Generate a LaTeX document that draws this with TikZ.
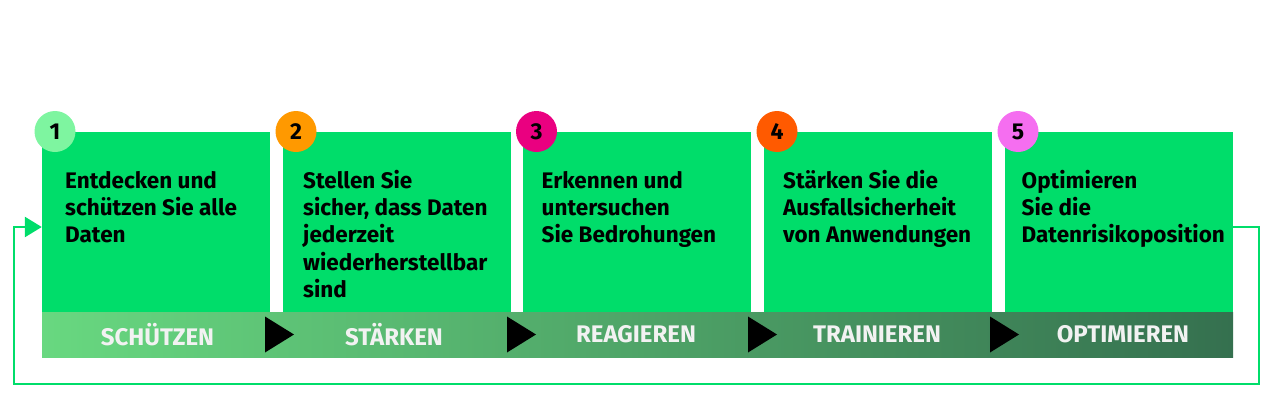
\documentclass[tikz,border=0pt]{standalone}
\usepackage{fontspec}
\setmainfont{Fira Sans}
\usetikzlibrary{arrows.meta,calc}
\definecolor{boxgreen}{HTML}{00DD6A}
\definecolor{bandL}{HTML}{68D880}
\definecolor{bandR}{HTML}{35704F}
\definecolor{c1}{HTML}{7EF5A0}
\definecolor{c2}{HTML}{FF9900}
\definecolor{c3}{HTML}{EA0080}
\definecolor{c4}{HTML}{FF5A00}
\definecolor{c5}{HTML}{F56EF0}
\definecolor{labelwhite}{HTML}{F2F2F2}
\tikzset{
  x=1pt,y=-1pt,
  stepbox/.style={fill=boxgreen,draw=none,minimum width=228pt,minimum height=180pt,inner sep=0pt},
  numcirc/.style={circle,minimum size=41pt,inner sep=0pt,font=\fontsize{23}{23}\selectfont\bfseries},
  bodytext/.style={anchor=north west,align=left,inner sep=0pt,font=\fontsize{22.5}{27.3}\selectfont\bfseries},
  bandlabel/.style={text=labelwhite,font=\fontsize{24}{24}\selectfont\bfseries,inner sep=0pt},
  tri/.style={fill=black,draw=none},
  loopline/.style={draw=boxgreen,line width=2.6pt},
}
\begin{document}
\begin{tikzpicture}
\useasboundingbox (0,0) rectangle (1280,407);
% boxes
\node[stepbox] (b1) at (156,222) {};
\node[stepbox] (b2) at (396.5,222) {};
\node[stepbox] (b3) at (637,222) {};
\node[stepbox] (b4) at (878,222) {};
\node[stepbox] (b5) at (1119,222) {};
% band
\node[minimum width=1191pt,minimum height=45pt,inner sep=0pt,left color=bandL,right color=bandR,draw=none] (band) at (637.5,334.5) {};
% band labels
\node[bandlabel] (l1) at (157.5,334.5) {SCHÜTZEN};
\node[bandlabel] (l2) at (394,334.5) {STÄRKEN};
\node[bandlabel] (l3) at (636,334.5) {REAGIEREN};
\node[bandlabel] (l4) at (877,334.5) {TRAINIEREN};
\node[bandlabel] (l5) at (1123,334.5) {OPTIMIEREN};
% band arrows
\fill[tri] (265,316.5) -- (294,334.5) -- (265,352.5) -- cycle;
\fill[tri] (507,316.5) -- (536,334.5) -- (507,352.5) -- cycle;
\fill[tri] (748,316.5) -- (777,334.5) -- (748,352.5) -- cycle;
\fill[tri] (990,316.5) -- (1019,334.5) -- (990,352.5) -- cycle;
% number circles
\node[numcirc,fill=c1] (n1) at (55,131.5) {1};
\node[numcirc,fill=c2] (n2) at (296,131.5) {2};
\node[numcirc,fill=c3] (n3) at (536.5,131.5) {3};
\node[numcirc,fill=c4] (n4) at (777,131.5) {4};
\node[numcirc,fill=c5] (n5) at (1018,131.5) {5};
% texts (top = first baseline 188 minus strut height 0.7*27.3)
\node[bodytext] (t1) at (65,168.9) {\strut Entdecken und\\schützen Sie alle\\Daten};
\node[bodytext] (t2) at (303,168.9) {\strut Stellen Sie\\sicher, dass Daten\\jederzeit\\wiederherstellbar\\sind};
\node[bodytext] (t3) at (541.5,168.9) {\strut Erkennen und\\untersuchen\\Sie Bedrohungen};
\node[bodytext] (t4) at (783,168.9) {\strut Stärken Sie die\\Ausfallsicherheit\\von Anwendungen};
\node[bodytext] (t5) at (1021.5,168.9) {\strut Optimieren\\Sie die\\Datenrisikoposition};
% loop connector
\coordinate (s) at ($(b5.east)+(0,5)$);
\coordinate (c1) at (1259,227);
\coordinate (c2) at (1259,384);
\coordinate (c3) at (14,384);
\coordinate (c4) at (14,227);
\draw[loopline,-{Triangle[length=17pt,width=20pt]}] (s) -- (c1) -- (c2) -- (c3) -- (c4) -- (b1.west |- c4);
\end{tikzpicture}
\end{document}
